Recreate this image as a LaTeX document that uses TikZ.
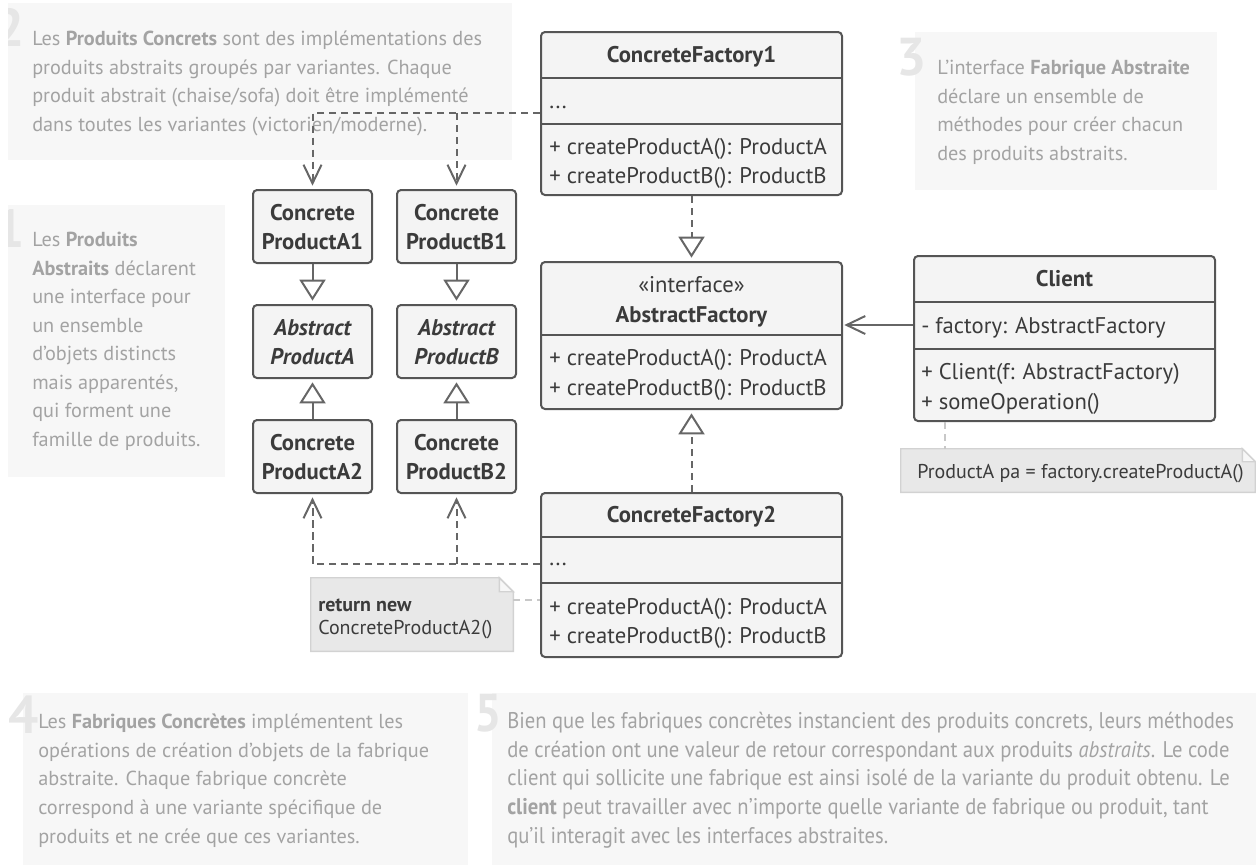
\documentclass[tikz,border=0pt]{standalone}
\usepackage{fontspec}
\setmainfont{PT Sans}
\newfontfamily\narrowfont[FakeStretch=0.91]{PT Sans}
\usetikzlibrary{arrows.meta,fit,calc}

\definecolor{annbg}{HTML}{F7F7F7}
\definecolor{anntxt}{HTML}{A3A3A3}
\definecolor{annnum}{HTML}{E6E6E6}
\definecolor{boxfill}{HTML}{F4F4F4}
\definecolor{boxline}{HTML}{555555}
\definecolor{boxtext}{HTML}{3B3B3B}
\definecolor{wire}{HTML}{666666}
\definecolor{notefill}{HTML}{E8E8E8}
\definecolor{noteline}{HTML}{D2D2D2}
\definecolor{notewire}{HTML}{C8C8C8}

\tikzset{
  annbox/.style={fill=annbg, inner sep=0pt},
  % multi-line panels are anchored on the baseline of their last line
  anntext/.style={font=\fontsize{15.2}{21.4}\selectfont, text=anntxt, align=left, inner sep=0pt, anchor=base west},
  annnumber/.style={font=\fontsize{40}{40}\selectfont\bfseries, text=annnum, inner sep=0pt, anchor=base east},
  classbox/.style={draw=boxline, fill=boxfill, line width=1.5pt, rounded corners=3pt, inner sep=0pt},
  sepline/.style={draw=boxline, line width=1.5pt},
  ctext/.style={font=\fontsize{17}{20}\selectfont, text=boxtext, inner sep=0pt, anchor=base west},
  ctitle/.style={font=\fontsize{17}{20}\selectfont\bfseries, text=boxtext, inner sep=0pt, anchor=base},
  cplain/.style={font=\fontsize{17}{20}\selectfont, text=boxtext, inner sep=0pt, anchor=base},
  citalic/.style={font=\fontsize{17}{20}\selectfont\bfseries\itshape, text=boxtext, inner sep=0pt, anchor=base},
  notebox/.style={inner sep=0pt},
  noteshape/.style={fill=notefill, draw=noteline, line width=1.1pt},
  notetext/.style={font=\fontsize{15}{18}\selectfont, text=boxtext, inner sep=0pt, anchor=base west},
  notelink/.style={draw=notewire, line width=1.5pt, dash pattern=on 5pt off 4pt},
  gen/.style={draw=wire, line width=1.5pt, -{Triangle[open, length=15.75pt, width=19.5pt]}, shorten >=2.5pt},
  real/.style={gen, dash pattern=on 5.5pt off 3.5pt},
  dep/.style={draw=wire, line width=1.5pt, dash pattern=on 5.5pt off 3.5pt, -{Straight Barb[length=14pt, width=13.5pt]}, shorten >=2.5pt},
  assoc/.style={draw=wire, line width=1.5pt, -{Straight Barb[length=14pt, width=13.5pt]}, shorten >=1pt},
}

\begin{document}
\begin{tikzpicture}[x=0.75pt, y=-0.75pt]
\useasboundingbox (0,0) rectangle (1256,865);

% ---------- explanatory panels ----------
\node[annbox, fit={(8,3) (512,160)}] (ann2box) {};
\node[annbox, fit={(8,205) (225,477)}] (ann1box) {};
\node[annbox, fit={(915,32) (1217,190)}] (ann3box) {};
\node[annbox, fit={(23,693) (468,865)}] (ann4box) {};
\node[annbox, fit={(492,693) (1256,865)}] (ann5box) {};

\begin{scope}
  \clip (8,0) rectangle (60,300);
  \node[annnumber] (num2) at (25,46) {2};
  \node[annnumber] (num1) at (25,247) {1};
\end{scope}
\node[annnumber] (num3) at (927,75) {3};
\node[annnumber] (num4) at (39,733) {4};
\node[annnumber, font=\fontsize{40}{40}\selectfont\bfseries\narrowfont] (num5) at (502,731) {5};

\node[anntext] (ann2) at (32,131.5) {Les \textbf{Produits Concrets} sont des implémentations des\\
produits abstraits groupés par variantes. Chaque\\
produit abstrait (chaise/sofa) doit être implémenté\\
dans toutes les variantes (victorien/moderne).};

\node[anntext] (ann1) at (32,446.5) {Les \textbf{Produits}\\
\textbf{Abstraits} déclarent\\
une interface pour\\
un ensemble\\
d’objets distincts\\
mais apparentés,\\
qui forment une\\
famille de produits.};

\node[anntext] (ann3) at (937,160.5) {L’interface \textbf{Fabrique Abstraite}\\
déclare un ensemble de\\
méthodes pour créer chacun\\
des produits abstraits.};

\node[anntext] (ann4) at (38,843) {Les \textbf{Fabriques Concrètes} implémentent les\\
opérations de création d’objets de la fabrique\\
abstraite. Chaque fabrique concrète\\
correspond à une variante spécifique de\\
produits et ne crée que ces variantes.};

\node[anntext, font=\fontsize{17}{21.4}\selectfont\narrowfont] (ann5) at (507,843) {Bien que les fabriques concrètes instancient des produits concrets, leurs méthodes\\
de création ont une valeur de retour correspondant aux produits \textit{abstraits}. Le code\\
client qui sollicite une fabrique est ainsi isolé de la variante du produit obtenu. Le\\
\textbf{client} peut travailler avec n’importe quelle variante de fabrique ou produit, tant\\
qu’il interagit avec les interfaces abstraites.};

% ---------- ConcreteFactory1 ----------
\node[classbox, fit={(541,32) (842,195)}] (cf1) {};
\draw[sepline] (cf1.west |- 0,78) -- (cf1.east |- 0,78);
\draw[sepline] (cf1.west |- 0,124) -- (cf1.east |- 0,124);
\node[ctitle] (cf1name) at (691.5,62) {ConcreteFactory1};
\node[ctext] (cf1attr) at (549,108) {...};
\node[ctext] (cf1opa) at (549,154) {+ createProductA(): ProductA};
\node[ctext] (cf1opb) at (549,183) {+ createProductB(): ProductB};

% ---------- AbstractFactory ----------
\node[classbox, fit={(541,262) (842,409)}] (af) {};
\draw[sepline] (af.west |- 0,335) -- (af.east |- 0,335);
\node[cplain] (afstereo) at (691.5,292) {«interface»};
\node[ctitle] (afname) at (691.5,322) {AbstractFactory};
\node[ctext] (afopa) at (549,365) {+ createProductA(): ProductA};
\node[ctext] (afopb) at (549,395) {+ createProductB(): ProductB};

% ---------- ConcreteFactory2 ----------
\node[classbox, fit={(541,493) (842,657)}] (cf2) {};
\draw[sepline] (cf2.west |- 0,537) -- (cf2.east |- 0,537);
\draw[sepline] (cf2.west |- 0,583) -- (cf2.east |- 0,583);
\node[ctitle] (cf2name) at (691.5,522) {ConcreteFactory2};
\node[ctext] (cf2attr) at (549,565) {...};
\node[ctext] (cf2opa) at (549,614) {+ createProductA(): ProductA};
\node[ctext] (cf2opb) at (549,643) {+ createProductB(): ProductB};

% ---------- Client ----------
\node[classbox, fit={(914,256) (1215,421)}] (client) {};
\draw[sepline] (client.west |- 0,302) -- (client.east |- 0,302);
\draw[sepline] (client.west |- 0,349) -- (client.east |- 0,349);
\node[ctitle] (clientname) at (1064.5,286) {Client};
\node[ctext] (clientattr) at (921,333) {- factory: AbstractFactory};
\node[ctext] (clientopa) at (921,379) {+ Client(f: AbstractFactory)};
\node[ctext] (clientopb) at (921,409) {+ someOperation()};

% ---------- products ----------
\node[classbox, fit={(253,190) (372,263)}] (cpa1) {};
\node[ctitle] (cpa1a) at (312.5,220) {Concrete};
\node[ctitle] (cpa1b) at (312.5,249) {ProductA1};
\node[classbox, fit={(397,190) (516,263)}] (cpb1) {};
\node[ctitle] (cpb1a) at (456.5,220) {Concrete};
\node[ctitle] (cpb1b) at (456.5,249) {ProductB1};

\node[classbox, fit={(253,305) (372,378)}] (apa) {};
\node[citalic] (apaa) at (312.5,335) {Abstract};
\node[citalic] (apab) at (312.5,364) {ProductA};
\node[classbox, fit={(397,305) (516,378)}] (apb) {};
\node[citalic] (apba) at (456.5,335) {Abstract};
\node[citalic] (apbb) at (456.5,364) {ProductB};

\node[classbox, fit={(253,420) (372,493)}] (cpa2) {};
\node[ctitle] (cpa2a) at (312.5,450) {Concrete};
\node[ctitle] (cpa2b) at (312.5,479) {ProductA2};
\node[classbox, fit={(397,420) (516,493)}] (cpb2) {};
\node[ctitle] (cpb2a) at (456.5,450) {Concrete};
\node[ctitle] (cpb2b) at (456.5,479) {ProductB2};

% ---------- notes ----------
\node[notebox, fit={(901,449) (1255,492)}] (cnote) {};
\draw[noteshape] (cnote.north west) -- ($(cnote.north east)+(-13,0)$) -- ($(cnote.north east)+(0,13)$) -- (cnote.south east) -- (cnote.south west) -- cycle;
\draw[noteshape, fill=annbg] ($(cnote.north east)+(-13,0)$) -- ($(cnote.north east)+(-13,13)$) -- ($(cnote.north east)+(0,13)$) -- cycle;
\node[notetext] (cnotetext) at (917,478) {ProductA pa = factory.createProductA()};

\node[notebox, fit={(311,578) (513,651)}] (rnote) {};
\draw[noteshape] (rnote.north west) -- ($(rnote.north east)+(-14,0)$) -- ($(rnote.north east)+(0,14)$) -- (rnote.south east) -- (rnote.south west) -- cycle;
\draw[noteshape, fill=annbg] ($(rnote.north east)+(-14,0)$) -- ($(rnote.north east)+(-14,14)$) -- ($(rnote.north east)+(0,14)$) -- cycle;
\node[notetext, font=\fontsize{15}{18}\selectfont\bfseries] (rnotea) at (318,611) {return new};
\node[notetext] (rnoteb) at (318,634) {ConcreteProductA2()};

% ---------- connectors ----------
\draw[gen] (cpa1) -- (apa);
\draw[gen] (cpb1) -- (apb);
\draw[gen] (cpa2) -- (apa);
\draw[gen] (cpb2) -- (apb);

\draw[real] (cf1) -- (af);
\draw[real] (cf2) -- (af);

\coordinate (cf1port) at (cf1.west |- 0,113);
\draw[dep] (cf1port) -| (cpa1.north);
\draw[dep] (cf1port -| cpb1.north) -- (cpb1.north);
\coordinate (cf2port) at (cf2.west |- 0,564);
\draw[dep] (cf2port) -| (cpa2.south);
\draw[dep] (cf2port -| cpb2.south) -- (cpb2.south);

\coordinate (clientport) at (client.west |- 0,325);
\draw[assoc] (clientport) -- (clientport -| af.east);

\coordinate (clientfoot) at ($(client.south west)+(32,0)$);
\draw[notelink] (clientfoot) -- (clientfoot |- cnote.north);
\coordinate (rnoteport) at (rnote.east |- 0,600);
\draw[notelink] (rnoteport) -- (rnoteport -| cf2.west);
\end{tikzpicture}
\end{document}
